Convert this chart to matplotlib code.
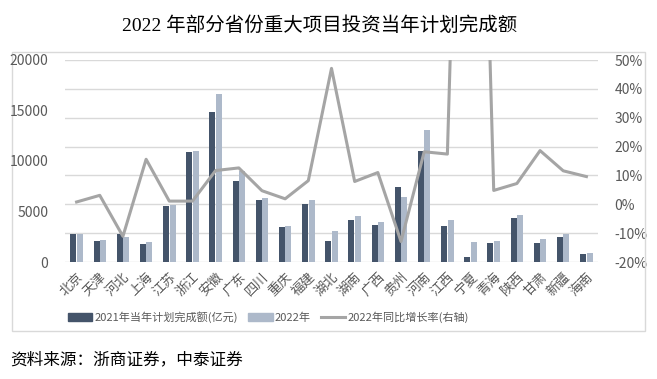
import matplotlib
matplotlib.use("Agg")
import matplotlib.pyplot as plt
from matplotlib.patches import Rectangle, Patch
from matplotlib.lines import Line2D
from matplotlib.ticker import FuncFormatter

plt.rcParams['font.family'] = ['Noto Sans CJK SC', 'DejaVu Sans']

# data
provinces = ['北京', '天津', '河北', '上海', '江苏', '浙江', '安徽', '广东', '四川', '重庆',
             '福建', '湖北', '湖南', '广西', '贵州', '河南', '江西', '宁夏', '青海', '陕西',
             '甘肃', '新疆', '海南']
plan_2021 = [2750, 2080, 2800, 1750, 5530, 10870, 14900, 8000, 6100, 3500,
             5730, 2080, 4180, 3620, 7450, 11000, 3560, 530, 1910, 4320,
             1910, 2470, 760]
plan_2022 = [2800, 2170, 2500, 2000, 5600, 11000, 16600, 9000, 6360, 3600,
             6160, 3060, 4580, 3990, 6460, 13050, 4180, 2000, 2040, 4650,
             2240, 2730, 890]
growth = [0.8, 3.1, -11.1, 15.6, 1.1, 1.1, 11.7, 12.6, 4.7, 1.9,
          8.2, 47.1, 7.9, 11.0, -12.9, 18.2, 17.4, 290.0, 4.8, 7.2,
          18.6, 11.6, 9.6]  # percent
pct_ticks = [-20, -10, 0, 10, 20, 30, 40, 50]
left_ticks = [0, 5000, 10000, 15000, 20000]

dark = '#44546A'
light = '#ADB9CA'
line_c = '#A5A5A5'
grid_c = '#D9D9D9'
txt_c = '#595959'

W, H = 657, 379
fig = plt.figure(figsize=(W / 100, H / 100), dpi=100)

# chart border
fig.add_artist(Rectangle((12 / W, 1 - 331 / H), (645 - 12) / W, (331 - 52) / H,
                         transform=fig.transFigure, fill=False,
                         edgecolor=grid_c, linewidth=1))

rect = [65 / W, 1 - 262 / H, (598 - 65) / W, (262 - 60) / H]
ax_pct = fig.add_axes(rect)
ax_bar = ax_pct.twinx()
ax_line = ax_pct.twinx()
ax_bar.set_zorder(2)
ax_line.set_zorder(3)

x = list(range(len(provinces)))

# right axis with gridlines
ax_pct.set_ylim(-20, 50)
ax_pct.set_yticks(pct_ticks)
ax_pct.yaxis.tick_right()
ax_pct.yaxis.set_major_formatter(FuncFormatter(lambda v, p: f"{v:.0f}%"))
ax_pct.grid(axis='y', color=grid_c, linewidth=1)
ax_pct.tick_params(axis='y', length=0, pad=12, labelsize=10, labelcolor=txt_c)
ax_pct.set_xticks(x)
ax_pct.set_xticklabels(provinces, rotation=45, ha='right', rotation_mode='anchor',
                       fontsize=9.5, color=txt_c)
ax_pct.tick_params(axis='x', length=0, pad=6)
ax_pct.set_xlim(-0.5, len(provinces) - 0.5)

# bars on left axis
bw = 0.26
ax_bar.bar([i - 0.14 for i in x], plan_2021, width=bw, color=dark)
ax_bar.bar([i + 0.14 for i in x], plan_2022, width=bw, color=light)
ax_bar.set_ylim(0, 20000)
ax_bar.set_yticks(left_ticks)
ax_bar.yaxis.tick_left()
ax_bar.tick_params(axis='y', length=0, pad=12, labelsize=10, labelcolor=txt_c)

# growth line
ax_line.plot(x, growth, color=line_c, linewidth=2.2)
ax_line.set_ylim(-20, 50)
ax_line.set_yticks([])

for a in (ax_pct, ax_bar, ax_line):
    for s in a.spines.values():
        s.set_visible(False)

handles = [Patch(color=dark), Patch(color=light), Line2D([], [], color=line_c, linewidth=2.2)]
labels = ['2021年当年计划完成额(亿元)', '2022年', '2022年同比增长率(右轴)']
fig.legend(handles, labels, loc='center left', bbox_to_anchor=(68 / W, 1 - 317 / H),
           ncol=3, frameon=False, fontsize=8, handlelength=2.2, handletextpad=0.2,
           columnspacing=0.9, borderpad=0, borderaxespad=0, labelcolor=txt_c)

fig.text(320 / W, 1 - 26 / H, '2022 年部分省份重大项目投资当年计划完成额',
         ha='center', va='center', fontsize=14,
         family=['Liberation Serif', 'Noto Sans CJK SC'])
fig.text(10 / W, 1 - 360 / H, '资料来源：浙商证券，中泰证券',
         ha='left', va='center', fontsize=12)

fig.savefig('out.png', dpi=100)
